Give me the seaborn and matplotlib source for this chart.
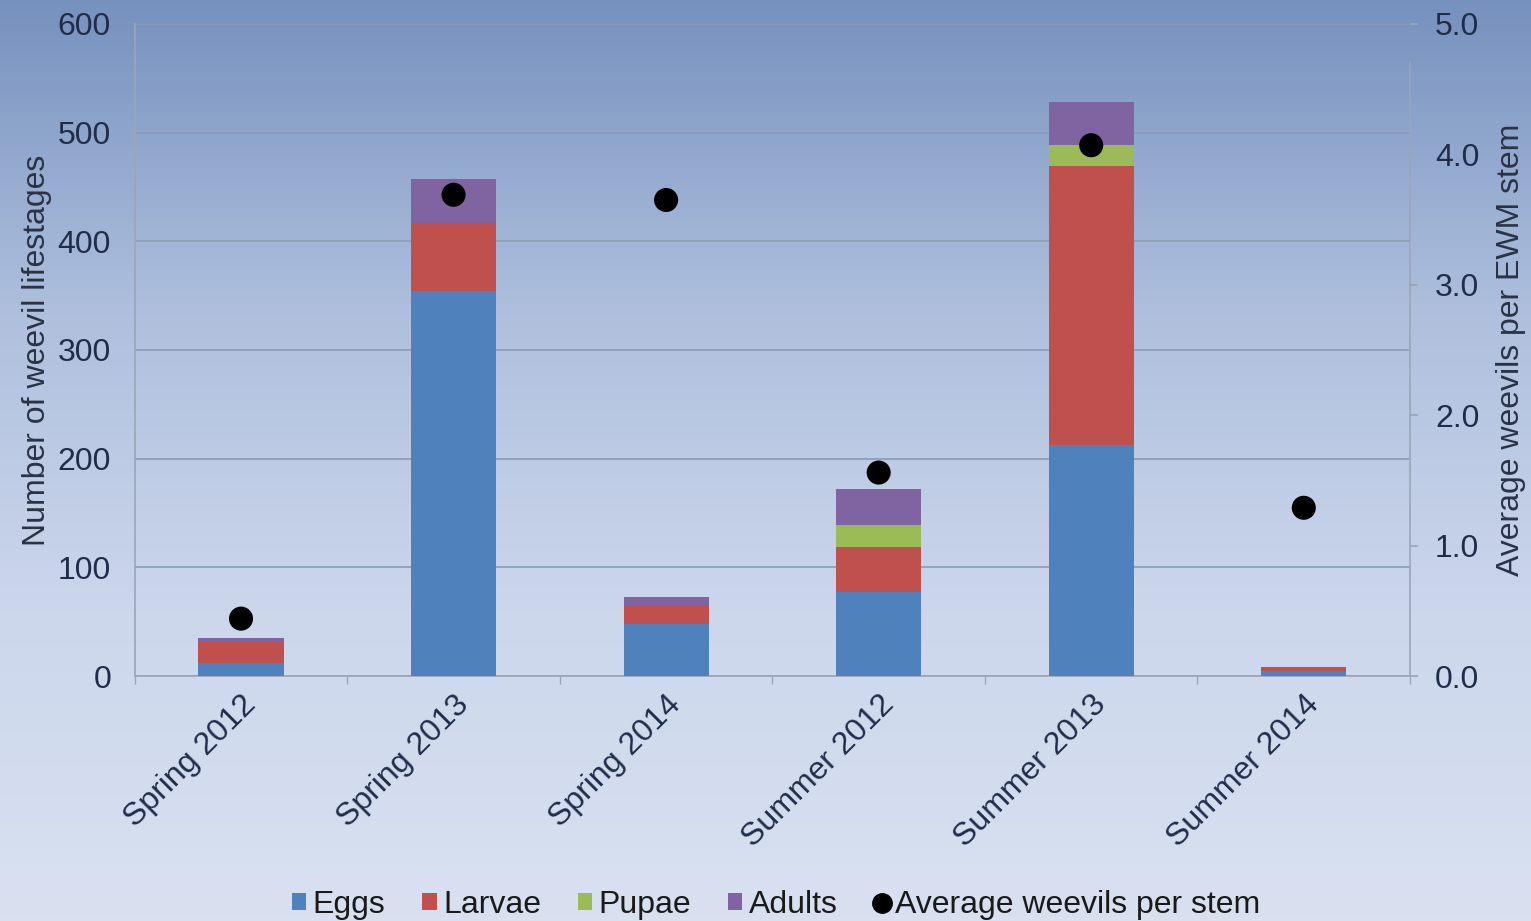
import numpy as np
import pandas as pd
import matplotlib
matplotlib.use("Agg")
import matplotlib.pyplot as plt
import seaborn as sns
from matplotlib.colors import LinearSegmentedColormap
from matplotlib.lines import Line2D
from matplotlib.patches import Patch

categories = ["Spring 2012", "Spring 2013", "Spring 2014", "Summer 2012", "Summer 2013", "Summer 2014"]
eggs = [12, 354, 48, 77, 213, 5]
larvae = [19, 63, 17, 42, 256, 2]
pupae = [0, 0, 0, 20, 20, 0]
adults = [4, 40, 8, 33, 39, 1]
avg_per_stem = [0.44, 3.69, 3.65, 1.56, 4.07, 1.29]

series_names = ["Eggs", "Larvae", "Pupae", "Adults"]
series_vals = [eggs, larvae, pupae, adults]
colors = ["#4F81BD", "#C0504D", "#9BBB59", "#8064A2"]

sns.set_theme(style="white")
plt.rcParams['font.family'] = ['Liberation Sans', 'DejaVu Sans']

fig = plt.figure(figsize=(15.31, 9.21), dpi=100)

# background gradient
bg = fig.add_axes([0, 0, 1, 1], zorder=-10)
cmap = LinearSegmentedColormap.from_list("bg", ["#7691BE", "#AEBFDD", "#CCD7EC", "#D9E1F1"])
grad = np.linspace(0, 1, 256).reshape(-1, 1)
bg.imshow(grad, aspect="auto", cmap=cmap, extent=[0, 1, 0, 1], origin="upper")
bg.axis("off")

ax = fig.add_axes([0.088, 0.266, 0.833, 0.708])
ax.patch.set_alpha(0)

bottom = np.zeros(len(categories))
for name, vals, col in zip(series_names, series_vals, colors):
    sns.barplot(x=categories, y=vals, bottom=bottom, color=col, width=0.4,
                ax=ax, saturation=1, edgecolor="none", zorder=3)
    bottom = bottom + np.array(vals)

FS = 23
ax.set_ylim(0, 600)
ax.set_xlim(-0.5, 5.5)
ax.set_yticks(range(0, 601, 100))
ax.grid(axis="y", color="#8A9BB5", linewidth=1.2, zorder=0)
ax.set_axisbelow(True)
for s in ["top", "right"]:
    ax.spines[s].set_visible(False)
for s in ["left", "bottom"]:
    ax.spines[s].set_color("#9AA6B8")
    ax.spines[s].set_linewidth(1.2)
ax.tick_params(axis="y", labelsize=FS, labelcolor="#1F2D4A", length=0, pad=17)
ax.set_xticks(range(len(categories)))
ax.set_xticklabels(categories, rotation=45, ha="right", rotation_mode="anchor",
                   fontsize=FS, color="#1F2D4A")
ax.tick_params(axis="x", length=0, pad=10)
ax.set_xticks(np.arange(-0.5, 5.6, 1), minor=True)
ax.tick_params(axis="x", which="minor", length=6, color="#9AA6B8", bottom=True, direction="out")
ax.set_ylabel("Number of weevil lifestages", fontsize=FS, color="#2A3345", labelpad=4)

ax2 = ax.twinx()
sns.scatterplot(x=np.arange(len(categories)), y=avg_per_stem, ax=ax2, color="black",
                s=300, edgecolor="none", zorder=5)
ax2.set_ylim(0, 5.0)
ax2.set_yticks(np.arange(0, 5.01, 1.0))
ax2.set_yticklabels([f"{v:.1f}" for v in np.arange(0, 5.01, 1.0)])
for s in ["top", "left", "bottom"]:
    ax2.spines[s].set_visible(False)
ax2.spines["right"].set_color("#9AA6B8")
ax2.spines["right"].set_linewidth(1.2)
ax2.spines["right"].set_bounds(0, 4.7)
ax2.tick_params(axis="y", labelsize=FS, labelcolor="#1F2D4A", length=6, color="#9AA6B8", pad=12)
ax2.set_ylabel("Average weevils per EWM stem", fontsize=FS, color="#2A3345", labelpad=12)
ax2.set_xlim(-0.5, 5.5)

handles = [Patch(facecolor=c, edgecolor="none") for c in colors]
handles.append(Line2D([], [], marker="o", color="black", linestyle="none", markersize=14))
fig.legend(handles, series_names + ["Average weevils per stem"], loc="lower center",
           bbox_to_anchor=(0.507, -0.03), ncol=5, frameon=False, fontsize=FS,
           handlelength=0.45, handleheight=0.45, handletextpad=0.2, columnspacing=1.15,
           labelcolor="#1A1A1A")

fig.savefig("out.png", dpi=100)
